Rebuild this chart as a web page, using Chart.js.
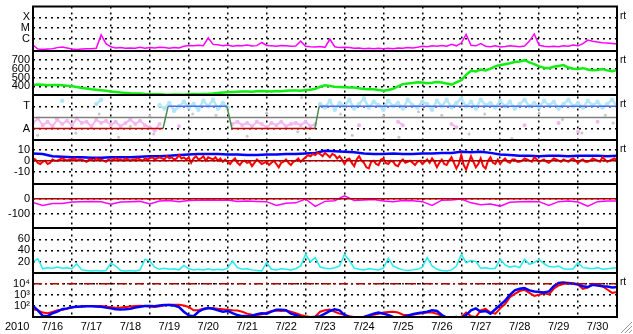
<!DOCTYPE html>
<html>
<head>
<meta charset="utf-8">
<script src="https://cdn.jsdelivr.net/npm/chart.js@4.4.1/dist/chart.umd.min.js"></script>
<style>
  html, body { margin: 0; padding: 0; background: #fff; }
  #wrap { width: 633px; height: 334px; position: relative; }
</style>
</head>
<body>
<div id="wrap"><canvas id="chart" width="633" height="334"></canvas></div>
<script>
const _ = null;
const DAY0 = 16;       // 2010-07-16 00:00
const DAY_END = 31;    // 2010-07-31 00:00
const STEP = 0.125;    // 3 h samples
const STEP2 = 0.25;    // 6 h samples
const STEP_FINE = 0.0625; // 1.5 h samples

// GOES X-ray flux (W/m2)
const xrayFlux = [
  2.6e-7,1.1e-7,1.0e-7,1.1e-7,1.2e-7,1.5e-7,1.7e-7,1.4e-7,1.1e-7,1.0e-7,
  1.1e-7,1.2e-7,1.2e-7,1.3e-7,2.3e-6,3.5e-7,1.8e-7,1.4e-7,1.5e-7,1.3e-7,
  1.4e-7,1.3e-7,1.6e-7,1.3e-7,1.5e-7,1.4e-7,1.6e-7,1.5e-7,1.3e-7,1.5e-7,
  1.4e-7,2.0e-7,2.4e-7,2.2e-7,2.5e-7,2.3e-7,1.2e-6,3.0e-7,2.8e-7,2.3e-7,
  2.6e-7,2.0e-7,2.4e-7,2.2e-7,2.6e-7,2.1e-7,2.3e-7,4.5e-7,2.4e-7,2.2e-7,
  2.0e-7,2.4e-7,2.2e-7,2.0e-7,2.1e-7,6.0e-7,2.0e-7,1.8e-7,1.7e-7,1.9e-7,
  1.6e-7,9.0e-7,1.8e-7,1.5e-7,1.6e-7,1.5e-7,1.3e-7,1.4e-7,1.2e-7,1.3e-7,
  1.2e-7,1.3e-7,1.2e-7,1.3e-7,1.2e-7,1.4e-7,1.3e-7,1.5e-7,1.4e-7,1.6e-7,
  2.0e-7,1.8e-7,2.2e-7,2.0e-7,2.4e-7,2.0e-7,3.0e-7,2.2e-7,4.0e-7,2.5e-6,
  2.5e-7,2.2e-7,3.5e-7,2.0e-7,1.8e-7,2.2e-7,1.7e-7,1.9e-7,2.2e-7,2.0e-7,
  1.8e-7,2.1e-7,6.0e-7,2.8e-6,2.5e-7,2.0e-7,1.8e-7,2.0e-7,1.8e-7,2.2e-7,
  2.0e-7,2.6e-7,2.2e-7,3.5e-7,7.5e-7,6.0e-7,5.0e-7,4.3e-7,4.0e-7,3.6e-7,
  3.3e-7
];

// solar wind speed (km/s)
const windSpeed = [
  415,420,418,412,414,416,412,408,400,392,
  382,376,368,362,356,350,342,336,330,326,
  322,320,318,314,312,311,310,307,306,309,
  308,306,310,313,312,314,316,320,326,331,
  334,336,338,341,342,340,344,347,345,343,
  348,346,350,352,354,351,358,362,372,395,
  412,405,395,392,390,386,388,378,370,368,
  366,360,350,358,372,400,425,432,438,446,
  442,436,440,448,444,432,420,445,470,530,
  575,568,590,580,600,625,640,650,660,675,
  680,695,670,650,625,610,605,620,630,640,
  612,598,595,605,590,582,585,595,580,570,
  585
];

// IMF sector: A = 0, T = 2
const sectorDay = [16, 19.34, 19.47, 20.98, 21.11, 23.24, 23.35, 31];
const sectorVal = [0, 0, 2, 2, 0, 0, 2, 2];
const phiAway = [
  0.5,0.9,0.3,0.6,0.2,0.8,0.4,0.7,0.3,0.9,
  0.5,0.6,0.2,0.8,0.5,0.7,0.3,0.6,0.2,0.5,
  0.8,0.4,0.7,0.3,0.1,-0.2,0.4,_,_,_,
  0.2,_,_,_,_,_,_,_,_,_,
  _,0.4,0.6,0.3,0.5,0.2,0.6,0.4,0.1,0.5,
  0.3,0.6,0.2,0.4,0.5,0.3,0.6,0.2,0.4,_,
  _,_,_,_,_,_,_,0.3,_,_,
  _,_,_,_,_,0.6,0.3,_,_,_,
  _,_,_,_,_,_,0.4,0.1,_,_,
  _,_,_,_,_,_,_,_,_,_,
  _,0.3,_,_,_,_,_,_,0.5,_,
  _,_,-0.3,_,_,_,0.6,_,_,_,
  _
];
const phiToward = [
  _,_,_,_,_,_,2.5,_,_,_,
  _,_,_,2.2,2.6,_,_,_,_,_,
  _,_,_,_,_,_,2.1,1.8,2.3,1.6,
  2.0,2.4,1.9,2.2,1.7,2.5,2.0,2.6,1.8,2.3,
  1.9,_,_,_,_,_,_,_,_,_,
  _,_,_,_,_,_,_,_,_,2.2,
  1.9,2.5,1.7,2.3,2.0,2.6,1.8,2.2,2.7,1.9,
  2.4,2.1,1.7,2.5,2.0,2.3,1.8,2.6,2.1,1.9,
  2.4,2.2,1.7,2.5,2.0,2.6,1.9,2.3,2.7,2.0,
  2.4,1.8,2.6,2.1,2.3,1.9,2.5,2.0,2.4,1.8,
  2.2,2.6,2.0,2.3,1.9,2.5,2.1,2.4,1.8,2.2,
  2.6,2.0,2.3,1.9,2.5,2.1,2.4,1.9,2.2,2.6,
  2.0
];
const phiOtherDay = [16.12,16.6,17.1,17.7,18.2,18.5,19.0,19.1,20.1,20.7,21.5,22.0,22.8,22.9,23.1,
                     23.9,24.2,25.0,25.4,25.9,26.5,27.2,27.6,28.3,29.0,29.6,30.1,30.7,30.9];
const phiOtherVal = [-0.6,0.9,-0.4,1.3,-0.8,0.2,1.1,-0.5,1.3,1.2,-0.7,1.4,-0.3,2.8,-0.9,
                     1.3,-0.6,1.1,-0.8,1.5,1.2,-0.5,1.3,-0.9,1.4,0.8,-0.4,1.2,0.5];

// IMF Bz (nT), 1.5 h samples, one row per day
const bz = [
  2,1,-2,-3,-1,0,-3,-2,1,0,0,1,2,1,0,1,
  1,2,0,1,1,0,-1,1,1,0,2,1,1,0,-1,1,
  0,1,2,1,1,0,2,1,0,1,1,2,1,0,2,1,
  2,3,1,2,3,2,1,4,2,3,1,2,5,2,3,1,
  3,-2,2,4,1,2,4,0,3,2,1,3,0,2,-1,1,
  -1,-3,0,2,-2,-4,-1,0,-2,-1,-5,-2,1,-1,-3,-2,
  -1,-4,-2,0,-3,-6,-2,-1,1,-2,-4,-1,0,2,-1,1,
  3,5,4,6,5,7,6,4,7,5,3,6,5,2,4,1,
  -3,1,2,-2,-5,1,4,0,-2,-6,-7,-1,0,-3,-4,1,
  2,-2,-3,0,-1,-4,-5,-1,1,-2,-1,0,-2,-4,-1,0,
  -3,-1,1,-2,2,-1,-6,-2,1,-3,-4,0,3,-2,-7,-3,
  5,-4,-8,-2,4,-1,-6,-3,2,-5,-7,0,3,-2,-3,1,
  -3,0,2,-1,-2,1,1,-1,-1,0,2,1,0,-1,3,1,
  -1,0,1,-1,-2,0,2,1,0,-1,1,0,-1,1,2,0,
  -2,0,1,-1,-1,0,2,1,0,-1,3,1,-1,0,1,2,
  0
];
// IMF Bt (nT)
const bt = [
  6.5,6,4,3.5,3,3,2.5,2.5,3,3,
  3,3.5,4,4,4.5,5,5.5,6,6,6,
  5.5,5.5,5,5,5.5,5.5,6,6,6.5,7,
  9,8.5,8,7.5,6.5,6,6,6.5,6,6,
  6.5,6.5,7,7,8,7.5,8,7,5.5,5,
  4.5,4.5,4,4.5,4.5,4,4.5,4.5,4.5,4,
  4.5
];

// Dst (nT)
const dst = [
  -25,-45,-33,-33,-22,-20,-18,-20,-38,-22,
  -20,-18,-35,-15,-12,-20,-12,-10,-8,-10,
  -8,-18,-16,-18,-20,-45,-30,-28,-2,-52,
  -18,-14,20,-12,-8,-6,-15,-20,-12,-14,
  -20,-45,-10,-8,-2,-28,-40,-36,-50,-24,
  -20,-18,-20,-45,-20,-16,-22,-50,-20,-15,
  -15
];

// cyan panel
const cyanIdx = [
  20,25,7,9,8,10,8,9,7,16,
  5,4,3,4,3,4,17,12,4,3,
  4,3,5,24,21,10,6,8,6,7,
  5,13,7,5,6,5,7,5,6,5,
  8,21,9,6,7,5,4,3,18,6,
  5,7,6,5,7,12,33,20,27,10,
  8,7,9,12,33,22,8,6,5,7,
  6,5,8,26,12,8,5,4,5,6,
  10,27,12,6,4,3,5,12,33,18,
  22,20,8,9,7,8,24,14,10,12,
  9,24,15,18,24,16,11,10,12,7,
  6,7,18,9,8,7,9,6,7,8,
  9
];

// >2 MeV electron flux
const electronRed = [
  50,40,25,22,28,40,45,55,75,85,
  90,100,100,95,100,90,75,70,72,80,
  90,100,105,100,90,80,95,115,125,130,
  125,110,80,40,40,55,62,62,55,50,
  45,40,38,30,20,16,15,18,25,35,
  38,35,38,30,22,15,12,10,11,30,
  40,48,30,20,16,12,10,10,10,12,
  16,20,25,28,30,25,16,15,16,20,
  22,25,25,20,12,9,10,9,10,25,
  12,10,40,55,25,20,60,150,600,1200,
  2200,2800,1500,800,1000,1400,1100,3500,7000,10000,
  12000,11000,8000,3500,4500,10000,9000,6000,3000,1500,
  1800
];
const electronBlue = [
  100,40,13,12,22,30,50,60,75,85,
  90,95,95,90,85,70,60,50,48,50,
  55,70,85,100,100,95,110,120,120,110,
  80,30,14,12,30,50,65,55,40,30,
  35,22,15,12,12,13,18,22,20,30,
  45,45,40,20,15,10,9,9,10,12,
  20,35,50,40,15,10,9,9,10,14,
  20,25,20,15,10,9,10,13,18,22,
  25,30,40,35,15,9,9,10,8,15,
  40,60,30,35,20,50,120,300,1000,2500,
  3500,4000,2500,2000,1800,1600,2000,6000,12000,13000,
  11000,10000,9000,6000,5000,8000,7000,6000,5500,4500,
  5000
];
const electronAlert = 1e4;

// tick values and labels
const xrayTicks = [1e-6, 1e-5, 1e-4];
const xrayLabels = ['C', 'M', 'X'];
const speedTicks = [400, 500, 600, 700];
const sectorTicks = [0, 2];
const sectorLabels = ['A', 'T'];
const bzTicks = [-10, 0, 10];
const dstTicks = [-100, 0];
const cyanTicks = [20, 40, 60];
const eTicks = [1e2, 1e3, 1e4];
const eLabels = ['10\u00b2', '10\u00b3', '10\u2074'];

const FONT_FAMILY = '"Liberation Sans", Arial, sans-serif';
const FONT = { family: FONT_FAMILY, size: 11 };

function series(vals, step) {
  return vals.map((v, i) => ({ x: DAY0 + i * step, y: v }));
}
function pairs(days, vals) {
  return days.map((d, i) => ({ x: d, y: vals[i] }));
}
function hline(v) {
  return [{ x: DAY0, y: v }, { x: DAY_END, y: v }];
}
function noPad(s) {
  s.paddingTop = 0; s.paddingBottom = 0; s.paddingLeft = 0; s.paddingRight = 0;
}

// one stacked y axis per panel
function panelAxis(type, min, max, tickVals, labels) {
  return {
    type: type, min: min, max: max,
    position: 'left', stack: 'panels', stackWeight: 1,
    border: { display: false, dash: [2, 4] },
    grid: { color: '#000', lineWidth: 1.5, drawTicks: false },
    ticks: {
      color: '#000', font: FONT, padding: 3, autoSkip: false,
      callback: v => {
        const k = tickVals.indexOf(v);
        if (k < 0) return '';
        return labels ? labels[k] : String(v);
      }
    },
    afterBuildTicks: s => { s.ticks = tickVals.map(v => ({ value: v })); },
    afterFit: s => { s.width = 33; noPad(s); }
  };
}

function line(data, axis, color, width, extra) {
  return Object.assign({
    data: data, yAxisID: axis, xAxisID: 'x',
    borderColor: color, backgroundColor: color,
    borderWidth: width, pointRadius: 0, tension: 0, spanGaps: false
  }, extra || {});
}

// panel borders, "rt" marks, year
const frame = {
  id: 'frame',
  afterDraw(chart) {
    const { ctx, chartArea: a, scales } = chart;
    ctx.save();
    ctx.strokeStyle = '#000';
    ctx.lineWidth = 2;
    ctx.strokeRect(a.left, a.top, a.right - a.left, a.bottom - a.top);
    ['yX', 'ySpd', 'ySec', 'yBz', 'yDst', 'yCyan'].forEach(id => {
      const y = Math.round(scales[id].bottom);
      ctx.beginPath();
      ctx.moveTo(a.left, y);
      ctx.lineTo(a.right, y);
      ctx.stroke();
    });
    ctx.fillStyle = '#000';
    ctx.font = '10px ' + FONT_FAMILY;
    ctx.textBaseline = 'alphabetic';
    ['yX', 'ySpd', 'ySec', 'yBz', 'yE'].forEach(id => {
      ctx.fillText('rt', a.right + 3, scales[id].top + 12);
    });
    ctx.font = '11px ' + FONT_FAMILY;
    ctx.fillText('2010', 5, 330);
    // window resize grip
    ctx.lineWidth = 1;
    [[621, 333], [625, 333], [629, 333]].forEach(([x, y]) => {
      ctx.strokeStyle = '#999';
      ctx.beginPath(); ctx.moveTo(x, y); ctx.lineTo(632, y - (632 - x)); ctx.stroke();
    });
    ctx.restore();
  }
};

const sectorColor = c => {
  const y0 = c.p0.parsed.y, y1 = c.p1.parsed.y;
  if (y0 !== y1) return '#4d8a4d';
  return y0 === 0 ? '#cc0000' : '#4a6cf0';
};

new Chart(document.getElementById('chart'), {
  type: 'line',
  data: {
    datasets: [
      line(hline(0), 'yBz', '#b00000', 1.5),
      line(series(bz, STEP_FINE), 'yBz', '#ff0000', 2),
      line(series(bt, STEP2), 'yBz', '#0000ff', 2.5),
      line(hline(0), 'yDst', '#b00000', 1.5),
      line(series(dst, STEP2), 'yDst', '#ff00ff', 1.5),
      line(hline(electronAlert), 'yE', '#b00000', 1.5, { borderDash: [9, 3, 2, 3] }),
      line(series(electronBlue, STEP), 'yE', '#0000ff', 2.5),
      line(series(electronRed, STEP), 'yE', '#ff0000', 2),
      line(pairs(sectorDay, sectorVal), 'ySec', '#4a6cf0', 1.5, { segment: { borderColor: sectorColor } }),
      line(hline(1), 'ySec', '#808080', 1.5),
      line(series(phiAway, STEP), 'ySec', '#f4b6f0', 2, { pointRadius: 1 }),
      line(series(phiToward, STEP), 'ySec', '#b2e6f8', 2.5, { pointRadius: 1 }),
      line(pairs(phiOtherDay, phiOtherVal), 'ySec', '#c8c8c8', 0, { showLine: false, pointRadius: 1.5 }),
      line(series(xrayFlux, STEP), 'yX', '#ff00ff', 1.5),
      line(series(windSpeed, STEP), 'ySpd', '#11ee11', 2.5),
      line(series(cyanIdx, STEP), 'yCyan', '#22eeee', 1.5)
    ]
  },
  options: {
    responsive: false,
    animation: false,
    devicePixelRatio: 1,
    layout: { padding: { top: 3, right: 16, left: 0, bottom: 0 } },
    plugins: { legend: { display: false }, tooltip: { enabled: false } },
    scales: {
      x: {
        type: 'linear', min: DAY0, max: DAY_END, position: 'bottom',
        border: { display: false, dash: [2, 4] },
        grid: { color: '#000', lineWidth: 1.5, drawTicks: false },
        ticks: {
          stepSize: 1, autoSkip: false, maxRotation: 0, color: '#000', font: FONT,
          padding: 3, labelOffset: 19.5,
          callback: v => (v < DAY_END ? '7/' + v : '')
        },
        afterFit: s => { s.height = 17; noPad(s); }
      },
      // listed bottom to top
      yE: panelAxis('logarithmic', 10, 1e5, eTicks, eLabels),
      yCyan: panelAxis('linear', 0, 80, cyanTicks),
      yDst: panelAxis('linear', -200, 100, dstTicks),
      yBz: panelAxis('linear', -21, 19, bzTicks),
      ySec: panelAxis('linear', -1, 3, sectorTicks, sectorLabels),
      ySpd: panelAxis('linear', 300, 800, speedTicks),
      yX: panelAxis('logarithmic', 7.5e-8, 1e-3, xrayTicks, xrayLabels)
    }
  },
  plugins: [frame]
});
</script>
</body>
</html>
